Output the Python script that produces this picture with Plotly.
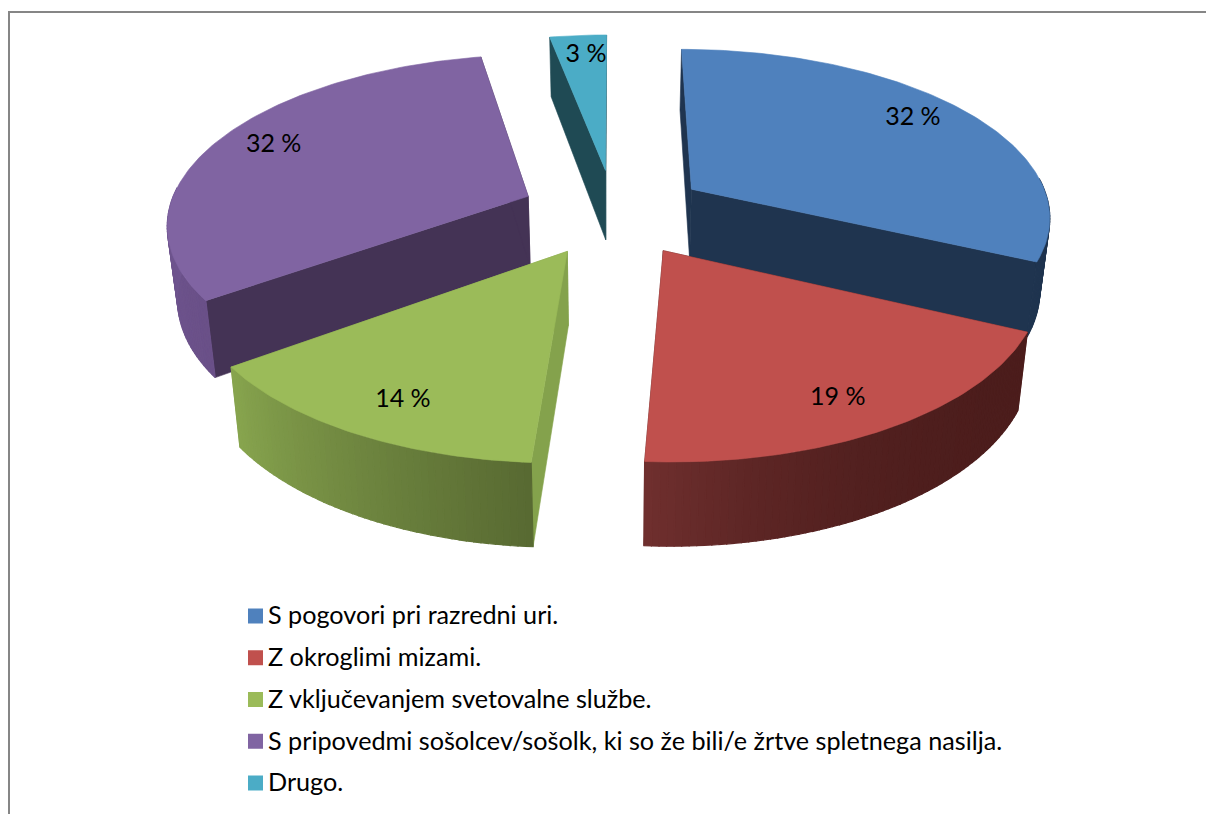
import numpy as np
import plotly.graph_objects as go

categories = ["S pogovori pri razredni uri.", "Z okroglimi mizami.", "Z vključevanjem svetovalne službe.",
              "S pripovedmi sošolcev/sošolk, ki so že bili/e žrtve spletnega nasilja.", "Drugo."]
values = [32, 19, 14, 32, 3]
labels = ["32 %", "19 %", "14 %", "32 %", "3 %"]

top_colors = ["#4F81BD", "#C0504D", "#9BBB59", "#8064A2", "#4BACC6"]
legend_colors = ["#4F81BD", "#C0504D", "#9BBB59", "#8064A2", "#4BACC6"]
start_face = ["#1F344F", "#4F1F1D", "#84A24C", "#443355", "#1F4A54"]
end_face = ["#1F344F", "#4F1F1D", "#84A24C", "#443355", "#1F4A54"]
wall_from = ["#1F344F", "#4C1D1C", "#586A32", "#6A5088", "#1F4A54"]
wall_to = ["#1F344F", "#6F2F2E", "#87A44E", "#7A60A0", "#1F4A54"]
wall_power = [1, 3, 1, 1, 1]
label_radius = [0.85, 0.824, 0.816, 0.845, 0.86]
label_shift = [-3.4, 1.4, -1.2, 3.2, 1.0]
draw_order = [4, 3, 0, 2, 1]

# projection
CX, CY, BX, AY, K, E = 614, 212, 360, 167, 0.149, 0.26
SHRINK = 0.977
W, H = 1206, 814


def project(x, y, bottom=False):
    w = 1 - K * y
    sx = CX + BX * x / w
    sy = CY + AY * y / w
    if bottom:
        sx = CX + (sx - CX) * SHRINK
        sy = sy + 72 + 10 * y
    return sx, sy


def mix(a, b, t):
    ca = [int(a[i:i + 2], 16) for i in (1, 3, 5)]
    cb = [int(b[i:i + 2], 16) for i in (1, 3, 5)]
    return "rgb(%d,%d,%d)" % tuple(round(p + (q - p) * t) for p, q in zip(ca, cb))


def poly(xs, ys, color, lw=0.6):
    return go.Scatter(x=list(xs) + [xs[0]], y=list(ys) + [ys[0]], mode="lines", fill="toself",
                      fillcolor=color, line=dict(color=color, width=lw), hoverinfo="skip", showlegend=False)


fig = go.Figure()
edges = np.concatenate([[0], np.cumsum(values)]) / np.sum(values) * 360
label_pts = []
for i in draw_order:
    a0, a1 = edges[i], edges[i + 1]
    mid = np.radians((a0 + a1) / 2)
    ox, oy = E * np.sin(mid), -E * np.cos(mid)
    th = np.radians(np.linspace(a0, a1, max(4, int(a1 - a0) + 1)))
    rx, ry = ox + np.sin(th), oy - np.cos(th)
    tx, ty = project(rx, ry)
    bx, by = project(rx, ry, True)
    ax, ay = project(ox, oy)
    abx, aby = project(ox, oy, True)
    # radial side faces
    fig.add_trace(poly([ax, tx[0], bx[0], abx], [ay, ty[0], by[0], aby], start_face[i]))
    fig.add_trace(poly([ax, tx[-1], bx[-1], abx], [ay, ty[-1], by[-1], aby], end_face[i]))
    # outer wall: only the part that faces the viewer
    for j in range(len(th) - 1):
        if np.cos((th[j] + th[j + 1]) / 2) > 0.06:
            continue
        t = (j / max(1, len(th) - 2)) ** wall_power[i]
        fig.add_trace(poly([tx[j], tx[j + 1], bx[j + 1], bx[j]], [ty[j], ty[j + 1], by[j + 1], by[j]],
                           mix(wall_from[i], wall_to[i], t), lw=1.2))
    # top face
    fig.add_trace(poly([ax] + list(tx), [ay] + list(ty), top_colors[i]))
    la = mid + np.radians(label_shift[i])
    label_pts.append((i, *project(ox + label_radius[i] * np.sin(la), oy - label_radius[i] * np.cos(la))))

for i, lx, ly in label_pts:
    fig.add_trace(go.Scatter(x=[lx], y=[ly + 4], mode="text", text=[labels[i]], textposition="middle center",
                             textfont=dict(family="Lato", size=25, color="#000000"),
                             hoverinfo="skip", showlegend=False))

for i, c in enumerate(categories):
    row_y = 616 + 41.75 * i
    fig.add_trace(go.Scatter(x=[255.5], y=[row_y], mode="markers", name=c, showlegend=False,
                             marker=dict(symbol="square", size=15, color=legend_colors[i]), hoverinfo="name"))
    fig.add_trace(go.Scatter(x=[268], y=[row_y + 2], mode="text", text=[c], textposition="middle right",
                             showlegend=False, hoverinfo="skip",
                             textfont=dict(family="Lato", size=25.2, color="#000000")))

fig.update_layout(
    width=W, height=H, margin=dict(l=0, r=0, t=0, b=0), paper_bgcolor="#FFFFFF", plot_bgcolor="#FFFFFF",
    xaxis=dict(range=[0, W], visible=False, fixedrange=True),
    yaxis=dict(range=[H, 0], visible=False, fixedrange=True),
    shapes=[dict(type="rect", xref="x", yref="y", x0=9, y0=12, x1=W + 20, y1=H + 20, layer="below",
                 line=dict(color="#868686", width=2))],
)
fig.write_html("out.html", config={"displayModeBar": False},
               post_script="document.body.style.margin='0';document.documentElement.style.overflow='hidden';")
